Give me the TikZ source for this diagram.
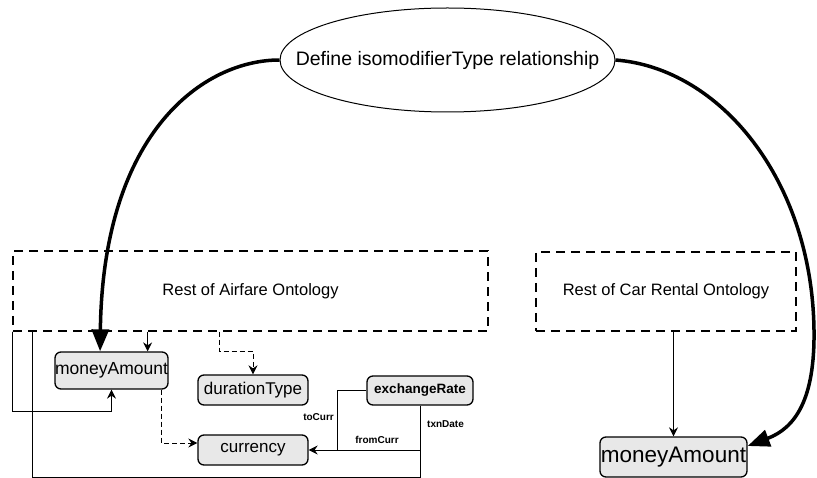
\documentclass[tikz,border=0pt]{standalone}
\usepackage{fontspec}
\setmainfont{Liberation Sans}
\usetikzlibrary{arrows.meta,calc,shapes.geometric}
% text of fixed-size boxes: no width of its own, so the box keeps its size
\newcommand\boxtext[1]{\makebox[0pt]{#1}}
\begin{document}
\begin{tikzpicture}[x=1pt,y=-1pt,
  concept/.style={draw, line width=1.3pt, rounded corners=6pt, fill=black!9, inner sep=0pt},
  region/.style={draw, line width=1.2pt, dash pattern=on 9pt off 6pt, inner sep=0pt,
                 font=\fontsize{16.5}{18}\selectfont},
  thinline/.style={line width=1pt},
  arr/.style={thinline, -{Stealth[length=9pt,width=9pt,inset=3pt]}},
  dasharr/.style={arr, dash pattern=on 5pt off 3pt},
  bigarr/.style={line width=3.5pt, -{Triangle[length=22pt,width=17pt]}},
  rel/.style={font=\fontsize{10}{12}\selectfont\bfseries, inner sep=0pt}
]
\useasboundingbox (0,0) rectangle (817,478);

% top-level relationship
\node[ellipse, draw, line width=1pt, minimum width=335pt, minimum height=104pt,
      inner sep=0pt, font=\fontsize{19.5}{22}\selectfont] (def) at (447.5,60)
      {\boxtext{Define isomodifierType relationship}};

% ontology regions
\node[region, minimum width=475pt, minimum height=80pt] (airfare) at (250.5,291)
      {Rest of Airfare Ontology};
\node[region, minimum width=260pt, minimum height=79pt] (carrental) at (666,291.5)
      {Rest of Car Rental Ontology};

% concepts
\node[concept, minimum width=113pt, minimum height=37pt, font=\fontsize{17.5}{20}\selectfont]
      (money1) at (111.5,370.5) {\boxtext{moneyAmount}};
\node[concept, minimum width=110pt, minimum height=30pt, font=\fontsize{17}{20}\selectfont]
      (duration) at (253,390) {\boxtext{durationType}};
\node[concept, minimum width=110pt, minimum height=30pt, font=\fontsize{17}{20}\selectfont]
      (currency) at (253,450) {\boxtext{currency}};
\node[concept, minimum width=106pt, minimum height=29pt, font=\fontsize{13.5}{16}\selectfont\bfseries]
      (exch) at (420,390.5) {\boxtext{exchangeRate}};
\node[concept, minimum width=147pt, minimum height=40pt, font=\fontsize{22.5}{26}\selectfont]
      (money2) at (673.5,457) {\boxtext{moneyAmount}};

% isomodifierType links
\coordinate (tipL) at ($(money1.north west)!0.4!(money1.north east)$);
\coordinate (tipR) at ($(money2.east)+(0,-11)$);
\draw[bigarr] (def.west) .. controls (205,60) and (103,130) .. (tipL);
\draw[bigarr] (def.east) .. controls (720,68) and (812,180) .. (814,330)
              .. controls (815,400) and (795,428) .. (tipR);

% car rental side
\draw[arr] (money2.north |- carrental.south) -- (money2.north);

% airfare side
\coordinate (inM) at ($(money1.north east)+(-21,0)$);
\draw[arr] (inM |- airfare.south) -- (inM);
\draw[arr] (airfare.south west) -- ++(0,80) -| (money1.south);
\coordinate (dd) at ($(duration.north west)+(22,0)$);
\draw[dasharr] (dd |- airfare.south) |- ($(duration.north)+(0,-23)$) -- (duration.north);
\draw[dasharr] ($(money1.south east)+(-7,0)$) |- ($(currency.west)+(0,-7)$);

% exchangeRate attributes
\coordinate (txnEnd) at ($(airfare.south west)+(20,0)$);
\draw[thinline] (exch.south) -- ++(0,72) -| (txnEnd);
\draw[arr] (exch.south) |- (currency.east);
\draw[thinline] (exch.west) -| ($(currency.east)+(29,0)$);

\node[rel, anchor=east] (lblTo) at (334,417) {toCurr};
\node[rel] (lblFrom) at (377,440) {fromCurr};
\node[rel, anchor=west] (lblTxn) at (427,424) {txnDate};
\end{tikzpicture}
\end{document}
